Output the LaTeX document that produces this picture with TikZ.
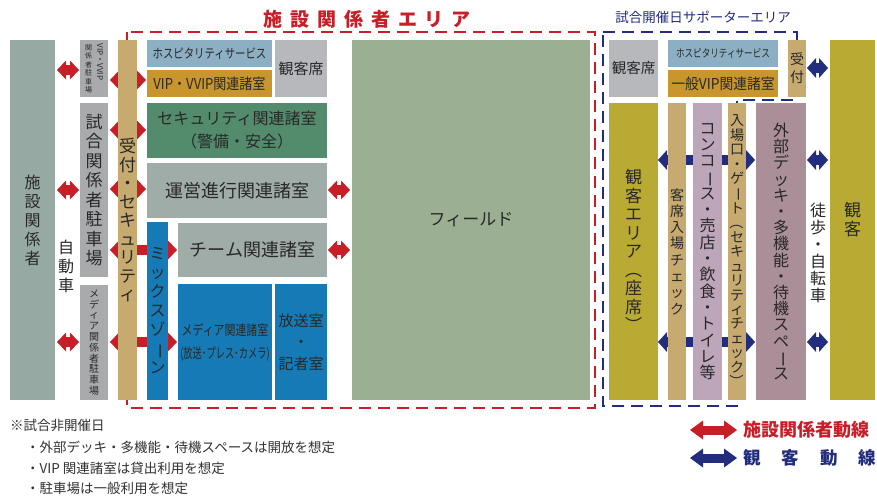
\documentclass[tikz,border=0pt]{standalone}
\usepackage{fontspec}
\setmainfont{Noto Sans CJK JP}
\usepackage{graphicx}
\usetikzlibrary{arrows.meta,calc}
\pgfdeclarelayer{bg}
\pgfsetlayers{bg,main}
\definecolor{cPeople}{RGB}{150,170,163}
\definecolor{cPark}{RGB}{168,170,172}
\definecolor{cRecep}{RGB}{198,170,112}
\definecolor{cHosp}{RGB}{140,175,195}
\definecolor{cVIP}{RGB}{200,150,45}
\definecolor{cSeat}{RGB}{182,184,188}
\definecolor{cSec}{RGB}{82,140,108}
\definecolor{cOps}{RGB}{160,172,168}
\definecolor{cMix}{RGB}{22,122,182}
\definecolor{cField}{RGB}{155,175,146}
\definecolor{cAud}{RGB}{185,170,52}
\definecolor{cConc}{RGB}{190,166,186}
\definecolor{cDeck}{RGB}{170,142,152}
\definecolor{cRed}{RGB}{200,30,40}
\definecolor{cBlue}{RGB}{35,45,125}
\definecolor{txt}{RGB}{40,40,40}
\definecolor{ntxt}{RGB}{50,50,50}
\newcommand{\vbar}{\rotatebox[origin=c]{-90}{ー}}
\newcommand{\vlp}{\rotatebox[origin=c]{-90}{（}}
\newcommand{\vrp}{\rotatebox[origin=c]{-90}{）}}
\newcommand{\fs}[2]{\fontsize{#1}{#2}\selectfont}
% box: name, x1, y1, x2, y2, colour, font, text
\newcommand{\bxn}[8]{%
  \pgfmathsetmacro\bxw{#4-#2}\pgfmathsetmacro\bxh{#5-#3}%
  \pgfmathsetmacro\bxx{(#2+#4)/2}\pgfmathsetmacro\bxy{(#3+#5)/2}%
  \node[bx,fill=#6,font={#7},minimum width=\bxw pt,minimum height=\bxh pt] (#1) at (\bxx,\bxy) {#8};}
\tikzset{
  bx/.style={inner sep=0pt, outer sep=0pt, draw=none, align=center, text=txt},
  tx/.style={inner sep=0pt, align=center, text=txt},
  note/.style={inner sep=0pt, anchor=west, text=ntxt, font={\fs{13.5}{16}}},
  ra/.style={draw=cRed, line width=10pt,
    {Triangle[length=9pt,width=19pt,line width=0pt]}-{Triangle[length=9pt,width=19pt,line width=0pt]}},
  ba/.style={draw=cBlue, line width=10pt,
    {Triangle[length=9pt,width=20pt,line width=0pt]}-{Triangle[length=9pt,width=20pt,line width=0pt]}},
  lga/.style={line width=9pt,
    {Triangle[length=13pt,width=19pt,line width=0pt]}-{Triangle[length=13pt,width=19pt,line width=0pt]}},
  reddash/.style={draw=cRed, line width=2.5pt, dash pattern=on 12pt off 7pt},
  bluedash/.style={draw=cBlue, line width=2.5pt, dash pattern=on 12pt off 7pt},
}
\begin{document}
\begin{tikzpicture}[x=1pt,y=-1pt]
\useasboundingbox (0,0) rectangle (877,496);
% ---------- left column ----------
\bxn{ppl}{10}{40}{55}{400}{cPeople}{\fs{16}{19}}{施\\設\\関\\係\\者}
\bxn{vipp}{80}{40}{108}{97}{cPark}{\fs{8}{9}}{}
\node[tx,font={\fs{8}{9}}] (vippA) at (100,62) {\rotatebox{-90}{VIP・VVIP}};
\node[tx,font={\fs{7}{8.4}}] (vippB) at (88.5,69) {関\\係\\者\\駐\\車\\場};
\bxn{gamep}{80}{103}{108}{277}{cPark}{\fs{17}{19.5}}{試\\合\\関\\係\\者\\駐\\車\\場}
\bxn{mediap}{80}{285}{108}{400}{cPark}{\fs{10}{10.8}}{メ\\デ\\ィ\\ア\\関\\係\\者\\駐\\車\\場}
\node[tx,font={\fs{16}{19}}] (car) at (66,266) {自\\動\\車};
\bxn{recep}{118}{40}{137}{400}{cRecep}{\fs{17}{18.5}}{受\\付\\・\\セ\\キ\\ュ\\リ\\テ\\ィ}
% ---------- facility rooms ----------
\bxn{hosp}{147}{40}{272}{67}{cHosp}{\fs{13}{15}}{\scalebox{0.8}[1]{ホスピタリティサービス}}
\bxn{vip}{147}{70}{272}{97}{cVIP}{\fs{15}{17}}{\scalebox{0.87}[1]{VIP・VVIP関連諸室}}
\bxn{seat}{275}{40}{327}{97}{cSeat}{\fs{15}{17}}{観客席}
\bxn{sec}{147}{103}{327}{158}{cSec}{\fs{16}{23}}{セキュリティ関連諸室\\（警備・安全）}
\bxn{ops}{147}{163}{327}{218}{cOps}{\fs{18}{20}}{運営進行関連諸室}
\bxn{mix}{147}{222}{168}{400}{cMix}{\fs{16}{19}}{ミ\\ッ\\ク\\ス\\ゾ\\\vbar\\ン}
\bxn{team}{178}{223}{327}{277}{cOps}{\fs{18}{20}}{チーム関連諸室}
\bxn{media}{178}{284}{272}{400}{cMix}{\fs{14}{23}}{\scalebox{0.78}[1]{メディア関連諸室}\\\scalebox{0.66}[1]{(放送･プレス･カメラ)}}
\bxn{bcast}{275}{284}{327}{400}{cMix}{\fs{15}{21.5}}{放送室\\・\\記者室}
\bxn{field}{352}{40}{590}{400}{cField}{\fs{17}{19}}{フィールド}
% ---------- supporter area ----------
\bxn{seat2}{609}{40}{658}{97}{cSeat}{\fs{14.5}{17}}{観客席}
\bxn{hosp2}{668}{40}{778}{67}{cHosp}{\fs{11}{13}}{\scalebox{0.78}[1]{ホスピタリティサービス}}
\bxn{vip2}{668}{70}{778}{97}{cVIP}{\fs{15}{17}}{\scalebox{0.92}[1]{一般VIP関連諸室}}
\bxn{rec2}{788}{40}{806}{97}{cRecep}{\fs{14}{18}}{受\\付}
\bxn{aud}{830}{40}{875}{400}{cAud}{\fs{17}{19}}{観\\客}
\bxn{audarea}{609}{103}{658}{400}{cAud}{\fs{17}{18.5}}{観\\客\\エ\\リ\\ア\\\vlp\\座\\席\\\vrp}
\bxn{seatchk}{668}{103}{686}{400}{cRecep}{\fs{14}{16.3}}{客\\席\\入\\場\\チ\\ェ\\ッ\\ク}
\bxn{conc}{693}{103}{722}{400}{cConc}{\fs{16}{16.3}}{コ\\ン\\コ\\\vbar\\ス\\・\\売\\店\\・\\飲\\食\\・\\ト\\イ\\レ\\等}
\bxn{gate}{728}{103}{746}{400}{cRecep}{\fs{14}{14.4}}{入\\場\\口\\・\\ゲ\\\vbar\\ト\\\vlp\\セ\\キ\\ュ\\リ\\テ\\ィ\\チ\\ェ\\ッ\\ク\\\vrp}
\bxn{deck}{756}{103}{806}{400}{cDeck}{\fs{16}{16.2}}{外\\部\\デ\\ッ\\キ\\・\\多\\機\\能\\・\\待\\機\\ス\\ペ\\\vbar\\ス}
\node[tx,font={\fs{16}{17}}] (walk) at (818,253) {徒\\歩\\・\\自\\転\\車};
% ---------- titles ----------
\node[inner sep=0pt,text=cRed,font={\fs{19}{22}\bfseries}] (ttlred) at (367,19) {施\kern8pt設\kern8pt関\kern8pt係\kern8pt者\kern8ptエ\kern8ptリ\kern8ptア};
\node[inner sep=0pt,text=cBlue,font={\fs{13.5}{16}}] (ttlblue) at (703,17) {試合開催日サポーターエリア};
% ---------- notes ----------
\node[note] (n0) at (10,425) {※試合非開催日};
\node[note] (n1) at (26,447) {・外部デッキ・多機能・待機スペースは開放を想定};
\node[note] (n2) at (26,468) {・VIP 関連諸室は貸出利用を想定};
\node[note] (n3) at (26,488) {・駐車場は一般利用を想定};
% ---------- legend ----------
\coordinate (lra) at (690,430); \coordinate (lrb) at (737,430);
\coordinate (lba) at (690,458); \coordinate (lbb) at (737,458);
\node[inner sep=0pt,anchor=west,text=cRed,font={\fs{18}{20}\bfseries}] (lgred) at (743,430) {施設関係者動線};
\node[inner sep=0pt,anchor=west,text=cBlue,font={\fs{17.5}{20}\bfseries}] (lgblue) at (743,458) {観\kern21pt客\kern21pt動\kern21pt線};
% ---------- row coordinates ----------
\coordinate (y68) at (0,68); \coordinate (y70) at (0,70); \coordinate (y80) at (0,80);
\coordinate (y130) at (0,130); \coordinate (y160) at (0,160); \coordinate (y189) at (0,189);
\coordinate (y190) at (0,190); \coordinate (y250) at (0,250); \coordinate (y342) at (0,342);
\begin{pgfonlayer}{bg}
\fill[white] (0,0) rectangle (877,496);
\draw[reddash] (127,32) rectangle (595,408);
\draw[bluedash] (603,32) -- (797,32) -- (797,100) -- (737,100) -- (737,406) -- (603,406) -- cycle;
% red flows
\draw[ra] ($(ppl.east |- y70)+(2,0)$) -- ($(vipp.west |- y70)+(-1,0)$);
\draw[ra] ($(ppl.east |- y190)+(2,0)$) -- ($(gamep.west |- y190)+(-1,0)$);
\draw[ra] ($(ppl.east |- y342)+(2,0)$) -- ($(mediap.west |- y342)+(-1,0)$);
\draw[ra] ($(vipp.east |- y80)+(2,0)$) -- ($(vip.west |- y80)+(-1,0)$);
\draw[ra] ($(gamep.east |- y130)+(2,0)$) -- ($(sec.west |- y130)+(-1,0)$);
\draw[ra] ($(gamep.east |- y189)+(2,0)$) -- ($(ops.west |- y189)+(-1,0)$);
\draw[ra] ($(gamep.east |- y250)+(2,0)$) -- ($(team.west |- y250)+(-1,0)$);
\draw[ra] ($(mediap.east |- y342)+(2,0)$) -- ($(media.west |- y342)+(-1,0)$);
\draw[ra] ($(ops.east |- y190)+(1,0)$) -- ($(field.west |- y190)+(-2,0)$);
\draw[ra] ($(team.east |- y250)+(1,0)$) -- ($(field.west |- y250)+(-2,0)$);
% blue flows
\draw[ba] ($(rec2.east |- y68)+(1,0)$) -- ($(aud.west |- y68)+(-2,0)$);
\draw[ba] ($(deck.east |- y160)+(1,0)$) -- ($(aud.west |- y160)+(-2,0)$);
\draw[ba] ($(deck.east |- y342)+(1,0)$) -- ($(aud.west |- y342)+(-2,0)$);
\draw[ba] (audarea.east |- y160) -- ($(deck.west |- y160)+(-1,0)$);
\draw[ba] (audarea.east |- y342) -- ($(deck.west |- y342)+(-1,0)$);
% legend arrows
\draw[lga,draw=cRed] (lra) -- (lrb);
\draw[lga,draw=cBlue] (lba) -- (lbb);
\end{pgfonlayer}
\end{tikzpicture}
\end{document}
